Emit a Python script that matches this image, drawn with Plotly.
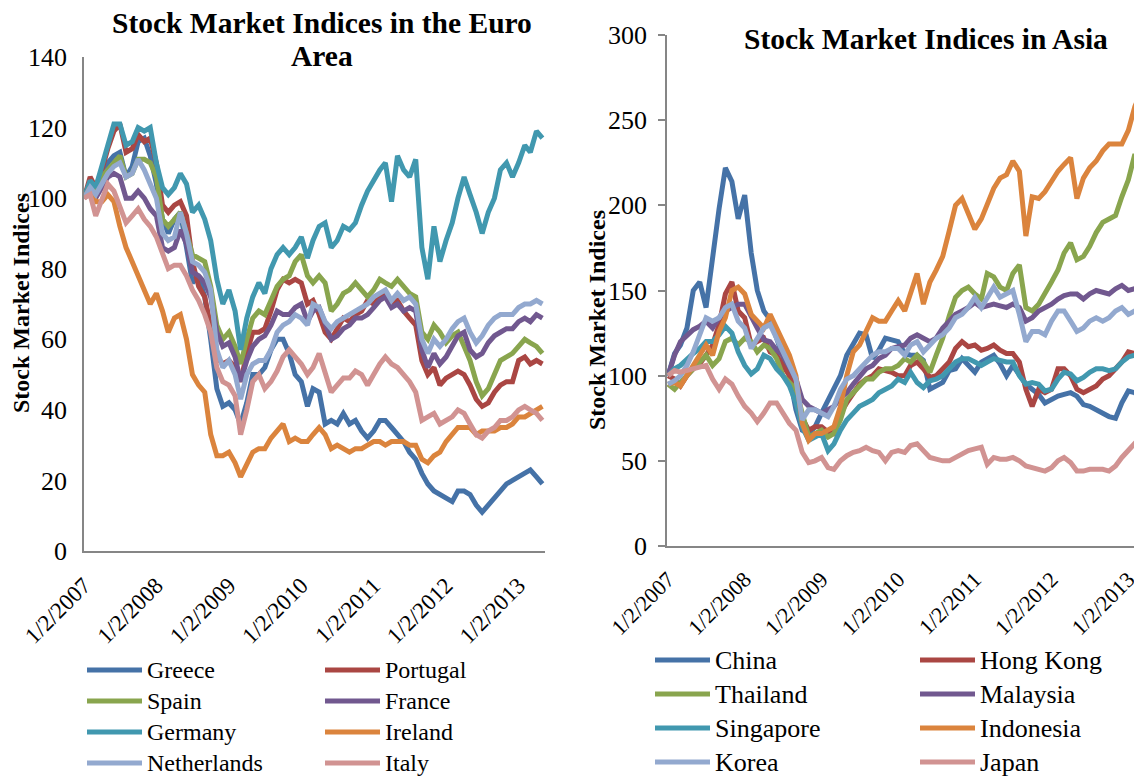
import plotly.graph_objects as go

# ---------------- data (monthly readings, index = 100 at 1/2/2007) ----------------
dates = [f"{2007 + i // 12}-{i % 12 + 1:02d}-02" for i in range(77)]

euro_names = ["Greece", "Portugal", "Spain", "France", "Germany", "Ireland", "Netherlands", "Italy"]
asia_names = ["China", "Hong Kong", "Thailand", "Malaysia", "Singapore", "Indonesia", "Korea", "Japan"]

greece = [100, 104, 101, 106, 110, 112, 113, 106, 109, 116,
          117, 112, 104, 94, 90, 94, 96, 86, 76, 78,
          72, 60, 46, 41, 42, 40, 36, 42, 50, 50,
          52, 57, 60, 60, 56, 50, 48, 41, 46, 45,
          36, 37, 36, 39, 36, 37, 34, 32, 34, 37,
          37, 35, 33, 31, 28, 26, 22, 19, 17, 16,
          15, 14, 17, 17, 16, 13, 11, 13, 15, 17,
          19, 20, 21, 22, 23, 21, 19]
portugal = [100, 106, 103, 108, 114, 119, 121, 113, 114, 118,
            116, 117, 110, 98, 96, 98, 99, 95, 82, 75,
            72, 64, 55, 53, 54, 52, 48, 56, 62, 62,
            63, 68, 74, 77, 76, 77, 76, 70, 71, 67,
            62, 60, 63, 66, 65, 67, 68, 71, 70, 72,
            73, 70, 71, 68, 66, 64, 54, 50, 52, 47,
            49, 50, 51, 50, 47, 43, 41, 42, 45, 47,
            48, 48, 54, 55, 53, 54, 53]
spain = [100, 104, 103, 106, 108, 110, 112, 106, 107, 111,
         111, 110, 106, 94, 92, 94, 96, 90, 84, 83,
         82, 75, 64, 60, 62, 58, 53, 60, 66, 68,
         67, 71, 75, 77, 78, 82, 84, 78, 76, 78,
         76, 68, 70, 73, 74, 76, 74, 72, 74, 77,
         76, 75, 77, 75, 73, 72, 62, 60, 64, 62,
         59, 61, 62, 58, 54, 48, 44, 46, 50, 54,
         55, 56, 58, 60, 59, 58, 56]
france = [100, 102, 100, 103, 106, 107, 106, 100, 100, 102,
          100, 97, 95, 86, 85, 86, 91, 87, 79, 78,
          76, 72, 62, 58, 59, 55, 48, 54, 58, 60,
          61, 64, 68, 67, 67, 69, 70, 65, 68, 69,
          65, 60, 61, 63, 64, 66, 66, 67, 69, 71,
          72, 69, 70, 68, 69, 68, 57, 52, 56, 53,
          55, 58, 61, 62, 57, 55, 56, 59, 61, 62,
          63, 63, 65, 66, 65, 67, 66]
germany = [100, 105, 103, 109, 116, 121, 121, 115, 116, 120,
           119, 120, 110, 103, 101, 103, 107, 104, 96, 98,
           94, 88, 77, 70, 74, 68, 57, 66, 72, 76,
           73, 80, 84, 86, 84, 86, 89, 83, 88, 92,
           93, 86, 88, 92, 91, 93, 98, 102, 105, 108,
           110, 99, 112, 108, 106, 111, 86, 77, 92, 82,
           88, 93, 100, 106, 101, 96, 90, 96, 100, 108,
           110, 106, 110, 115, 113, 119, 117]
ireland = [100, 103, 99, 99, 101, 99, 92, 86, 82, 78,
           74, 70, 73, 68, 62, 66, 67, 60, 50, 47,
           45, 33, 27, 27, 28, 25, 21, 25, 28, 29,
           29, 32, 34, 36, 31, 32, 31, 31, 33, 35,
           33, 29, 30, 29, 28, 29, 29, 30, 31, 31,
           30, 31, 31, 31, 30, 30, 26, 25, 27, 28,
           31, 33, 35, 35, 35, 33, 34, 34, 34, 35,
           35, 36, 38, 38, 39, 40, 41]
netherlands = [100, 103, 101, 104, 107, 109, 110, 106, 107, 111,
               108, 104, 100, 90, 88, 89, 96, 90, 82, 81,
               79, 74, 57, 52, 54, 50, 43, 50, 53, 54,
               54, 57, 62, 64, 65, 67, 66, 64, 70, 69,
               65, 63, 65, 66, 67, 68, 69, 70, 72, 73,
               74, 71, 73, 71, 72, 70, 60, 56, 60, 58,
               60, 63, 65, 66, 62, 59, 61, 64, 66, 67,
               67, 67, 69, 70, 70, 71, 70]
italy = [100, 101, 95, 100, 104, 102, 98, 93, 95, 97,
         94, 92, 89, 84, 80, 81, 81, 78, 74, 71,
         67, 62, 52, 48, 47, 44, 33, 40, 48, 50,
         46, 48, 51, 55, 57, 55, 53, 50, 52, 56,
         50, 45, 47, 49, 49, 51, 50, 47, 50, 53,
         55, 53, 52, 50, 48, 45, 37, 38, 39, 36,
         37, 38, 40, 39, 36, 33, 32, 34, 35, 37,
         37, 38, 40, 41, 40, 39, 37]

china = [100, 113, 118, 128, 150, 155, 140, 172, 198, 222,
         214, 192, 206, 172, 150, 138, 133, 122, 112, 100,
         80, 68, 66, 70, 78, 86, 92, 100, 112, 118,
         125, 124, 110, 115, 122, 121, 120, 113, 112, 112,
         109, 92, 94, 96, 103, 104, 110, 106, 102, 108,
         110, 112, 107, 100, 106, 100, 95, 92, 89, 84,
         86, 88, 89, 90, 88, 83, 82, 80, 78, 76,
         75, 84, 91, 90, 86, 84, 84]
hong_kong = [100, 98, 94, 100, 104, 107, 112, 118, 130, 148,
             155, 138, 134, 118, 120, 122, 114, 112, 106, 100,
             90, 75, 68, 70, 70, 67, 66, 78, 84, 90,
             95, 98, 100, 104, 103, 102, 100, 100, 106, 108,
             104, 99, 100, 104, 108, 116, 120, 117, 118, 115,
             116, 118, 115, 113, 113, 108, 92, 82, 92, 90,
             92, 104, 104, 100, 92, 90, 92, 94, 98, 100,
             104, 108, 114, 113, 110, 110, 109]
thailand = [95, 92, 96, 100, 104, 108, 112, 106, 110, 120,
            122, 118, 122, 120, 114, 118, 116, 110, 100, 96,
            92, 78, 64, 66, 68, 64, 66, 74, 86, 90,
            94, 98, 98, 102, 104, 104, 106, 110, 108, 112,
            108, 102, 112, 122, 135, 146, 150, 152, 148, 145,
            160, 158, 152, 150, 160, 165, 140, 138, 142, 148,
            155, 162, 172, 178, 168, 170, 176, 184, 190, 192,
            194, 205, 215, 230, 222, 228, 230]
malaysia = [100, 112, 120, 124, 127, 129, 132, 128, 134, 138,
            140, 142, 142, 134, 128, 121, 120, 115, 112, 105,
            98, 86, 82, 80, 78, 80, 82, 87, 90, 95,
            100, 104, 106, 110, 112, 116, 117, 118, 122, 124,
            122, 120, 122, 128, 132, 136, 138, 140, 143, 140,
            141, 142, 141, 140, 142, 140, 132, 134, 138, 140,
            142, 145, 147, 148, 148, 145, 148, 150, 149, 148,
            151, 153, 150, 151, 152, 150, 151]
singapore = [100, 104, 106, 110, 113, 116, 120, 120, 124, 129,
             125, 114, 106, 101, 104, 112, 110, 104, 100, 94,
             84, 70, 62, 64, 66, 56, 60, 68, 74, 78,
             82, 84, 86, 90, 92, 94, 98, 96, 102, 96,
             93, 97, 98, 100, 104, 108, 110, 110, 108, 106,
             108, 110, 109, 108, 108, 100, 95, 96, 95, 91,
             92, 98, 102, 101, 97, 99, 102, 104, 104, 103,
             104, 108, 111, 112, 112, 113, 112]
indonesia = [95, 96, 94, 100, 106, 112, 118, 112, 126, 134,
             150, 152, 148, 136, 132, 128, 136, 128, 120, 112,
             100, 72, 62, 66, 66, 68, 70, 82, 100, 114,
             118, 126, 134, 132, 132, 138, 144, 138, 148, 160,
             142, 155, 162, 170, 185, 200, 204, 196, 186, 192,
             200, 210, 216, 218, 226, 220, 182, 205, 204, 208,
             214, 220, 224, 228, 204, 216, 222, 226, 232, 236,
             236, 236, 244, 258, 266, 268, 272]
korea = [95, 97, 100, 106, 114, 124, 134, 132, 134, 140,
         142, 132, 128, 116, 122, 128, 130, 122, 114, 106,
         98, 74, 80, 80, 78, 76, 82, 92, 98, 100,
         104, 108, 112, 114, 114, 116, 116, 112, 118, 120,
         114, 118, 122, 124, 128, 134, 136, 140, 146, 140,
         146, 152, 146, 148, 150, 136, 120, 126, 126, 124,
         132, 138, 138, 132, 126, 128, 132, 134, 132, 134,
         138, 140, 136, 138, 138, 137, 138]
japan = [100, 103, 102, 103, 104, 105, 106, 98, 92, 98,
         95, 88, 82, 78, 73, 78, 84, 84, 78, 72,
         68, 55, 49, 50, 52, 46, 45, 50, 53, 55,
         56, 58, 56, 55, 50, 55, 56, 55, 59, 60,
         56, 52, 51, 50, 50, 52, 54, 56, 57, 58,
         48, 52, 51, 51, 52, 50, 47, 46, 45, 44,
         46, 50, 52, 49, 44, 44, 45, 45, 45, 44,
         47, 52, 56, 60, 64, 66, 68]

euro_values = [greece, portugal, spain, france, germany, ireland, netherlands, italy]
asia_values = [china, hong_kong, thailand, malaysia, singapore, indonesia, korea, japan]

tick_years = [2007, 2008, 2009, 2010, 2011, 2012, 2013]
tick_dates = [f"{y}-01-02" for y in tick_years]
tick_labels = [f"1/2/{y}" for y in tick_years]

colors = ["#4572A7", "#AA4643", "#89A54E", "#71588F",
          "#4198AF", "#DB843D", "#93A9CF", "#D19392"]

# ---------------- figure ----------------
# the page body has an 8px default margin, so the figure is sized to the
# visible window minus that margin and positions are given in window pixels
OFF = 8
W, H = 1142 - OFF, 778 - OFF
FONT = "Liberation Serif"
AX = "#868686"


def px_x(p):
    return (p - OFF) / W


def px_y(p):
    return 1 - (p - OFF) / H


fig = go.Figure()

for i, (name, vals) in enumerate(zip(euro_names, euro_values)):
    fig.add_trace(go.Scatter(
        x=dates, y=vals, mode="lines",
        name=f'<span style="font-size:24px">{name}</span>',
        line=dict(color=colors[i], width=5),
        xaxis="x", yaxis="y", legend=["legend", "legend2"][i % 2]))

for i, (name, vals) in enumerate(zip(asia_names, asia_values)):
    fig.add_trace(go.Scatter(
        x=dates, y=vals, mode="lines",
        name=f'<span style="font-size:26px">{name}</span>',
        line=dict(color=colors[i], width=5),
        xaxis="x2", yaxis="y2", legend=["legend3", "legend4"][i % 2]))

common_x = dict(type="date", showline=True, linecolor=AX, linewidth=1.75,
                ticks="", showgrid=False, zeroline=False, tickangle=-45,
                tickvals=tick_dates, ticktext=tick_labels, automargin=False,
                ticklabelstandoff=10)
common_y = dict(showline=True, linecolor=AX, linewidth=1.75, showgrid=False,
                zeroline=False, automargin=False)


def leg(x, y, size):
    return dict(x=px_x(x), y=px_y(y), xanchor="left", yanchor="top",
                font=dict(size=size, family=FONT, color="black"),
                bgcolor="rgba(0,0,0,0)", itemwidth=55, borderwidth=0,
                traceorder="normal")


fig.update_layout(
    width=W, height=H, autosize=False,
    margin=dict(l=0, r=0, t=0, b=0, pad=0, autoexpand=False),
    paper_bgcolor="white", plot_bgcolor="white",
    font=dict(family=FONT, color="black"),
    xaxis=dict(common_x, domain=[px_x(84), px_x(545)], anchor="y",
               range=["2007-01-02", "2013-05-15"],
               tickfont=dict(size=23, family=FONT, color="black")),
    yaxis=dict(common_y, domain=[px_y(551), px_y(57)], anchor="x",
               range=[0, 140], tickvals=[0, 20, 40, 60, 80, 100, 120, 140],
               ticks="", ticklabelstandoff=10,
               tickfont=dict(size=26, family=FONT, color="black")),
    xaxis2=dict(common_x, domain=[px_x(667), 1.0], anchor="y2",
                range=["2006-12-28", "2013-03-08"],
                tickfont=dict(size=22, family=FONT, color="black")),
    yaxis2=dict(common_y, domain=[px_y(546), px_y(35)], anchor="x2",
                range=[0, 300], tickvals=[0, 50, 100, 150, 200, 250, 300],
                ticks="outside", ticklen=7, tickcolor=AX, tickwidth=1.75,
                ticklabelstandoff=6,
                tickfont=dict(size=26, family=FONT, color="black")),
    legend=leg(82, 649.5, 21.54),
    legend2=leg(320, 649.5, 21.54),
    legend3=leg(650, 638, 23.85),
    legend4=leg(915, 638, 23.85),
    showlegend=True,
)

title_font = dict(family=FONT, size=29.5, color="black")
fig.add_annotation(text="<b>Stock Market Indices in the Euro</b>", x=px_x(322), y=px_y(23),
                   xref="paper", yref="paper", showarrow=False, font=title_font,
                   xanchor="center", yanchor="middle")
fig.add_annotation(text="<b>Area</b>", x=px_x(322), y=px_y(56),
                   xref="paper", yref="paper", showarrow=False, font=title_font,
                   xanchor="center", yanchor="middle")
fig.add_annotation(text="<b>Stock Market Indices in Asia</b>", x=px_x(926), y=px_y(39),
                   xref="paper", yref="paper", showarrow=False, font=title_font,
                   xanchor="center", yanchor="middle")

ytitle_font = dict(family=FONT, size=24, color="black")
fig.add_annotation(text="<b>Stock Market Indices</b>", x=px_x(21), y=px_y(303),
                   xref="paper", yref="paper", showarrow=False, textangle=-90,
                   font=ytitle_font, xanchor="center", yanchor="middle")
fig.add_annotation(text="<b>Stock Market Indices</b>", x=px_x(597), y=px_y(320),
                   xref="paper", yref="paper", showarrow=False, textangle=-90,
                   font=ytitle_font, xanchor="center", yanchor="middle")

fig.write_html("out.html")
